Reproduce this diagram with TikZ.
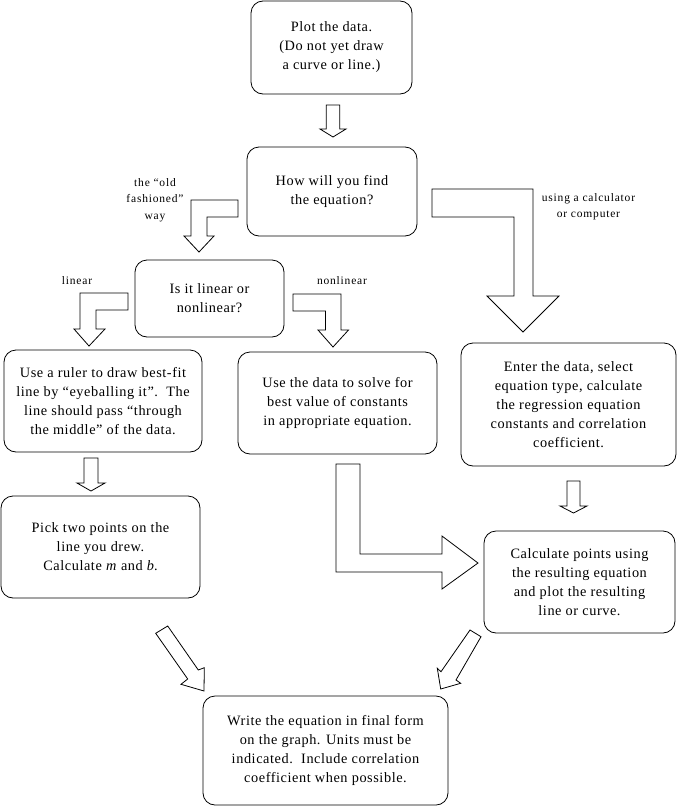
\documentclass[tikz,border=0pt]{standalone}
\usepackage{fontspec}
\setmainfont{Liberation Serif}
\newfontfamily\boxface[LetterSpace=4]{Liberation Serif}
\newfontfamily\tagface[LetterSpace=7]{Liberation Serif}
\usepackage{tikz}

\newcommand{\boxfont}{\boxface\fontsize{14.3}{19}\selectfont}
\newcommand{\tagfont}{\tagface\fontsize{11.5}{16.5}\selectfont}
% straight block arrow pointing down: x, top, neck, tip, half shaft, half head
\newcommand{\downblock}[6]{%
  \draw[blockarrow] (#1-#5,#2) -- (#1+#5,#2) -- (#1+#5,#3) -- (#1+#6,#3) -- (#1,#4)
    -- (#1-#6,#3) -- (#1-#5,#3) -- cycle;}

\begin{document}
\begin{tikzpicture}[x=1pt,y=-1pt,
  stepbox/.style={draw, line width=0.8pt, rounded corners=12pt, align=center, font=\boxfont, inner sep=0pt},
  tag/.style={align=center, font=\tagfont, inner sep=0pt},
  blockarrow/.style={draw, fill=white, line width=0.8pt, line join=miter}]
\useasboundingbox (0,0) rectangle (677,811);

% boxes
\node[stepbox, minimum width=161pt, minimum height=93pt] (plot) at (331.5,47.5)
  {Plot the data.\\ (Do not yet draw\\ a curve or line.)};
\node[stepbox, minimum width=170pt, minimum height=89pt] (find) at (332,191.5)
  {How will you find\\ the equation?};
\node[stepbox, minimum width=149pt, minimum height=77pt] (linq) at (209.5,298.5)
  {Is it linear or\\ nonlinear?};
\node[stepbox, minimum width=198pt, minimum height=102pt] (ruler) at (103,401)
  {Use a ruler to draw best-fit\\ line by “eyeballing it”.\ \ The\\ line should pass “through\\ the middle” of the data.};
\node[stepbox, minimum width=199pt, minimum height=102pt] (solve) at (337.5,403)
  {Use the data to solve for\\ best value of constants\\ in appropriate equation.};
\node[stepbox, minimum width=215pt, minimum height=123pt] (enter) at (568.5,404.5)
  {Enter the data, select\\ equation type, calculate\\ the regression equation\\ constants and correlation\\ coefficient.};
\node[stepbox, minimum width=199pt, minimum height=102pt] (pick) at (100.5,547)
  {Pick two points on the\\ line you drew.\\ Calculate \textit{m} and \textit{b}.};
\node[stepbox, minimum width=191pt, minimum height=102pt] (calc) at (579.5,582)
  {Calculate points using\\ the resulting equation\\ and plot the resulting\\ line or curve.};
\node[stepbox, minimum width=245pt, minimum height=109pt] (final) at (325.5,750.5)
  {Write the equation in final form\\ on the graph. Units must be\\ indicated.\ \ Include correlation\\ coefficient when possible.};

% labels
\node[tag] (oldway) at (155,200) {the “old\\ fashioned”\\ way};
\node[tag] (machine) at (588.5,206.5) {using a calculator\\ or computer};
\node[tag] (lin) at (77,281) {linear};
\node[tag] (nonlin) at (342,281) {nonlinear};

% straight arrows
\downblock{333}{105}{129}{137}{6.7}{13}
\downblock{91}{458}{483}{491}{7}{14}
\downblock{573.5}{481}{506}{513}{6.5}{13.5}

% bent arrows
\draw[blockarrow] (238,200) -- (191,200) -- (191,236) -- (184,236) -- (199,252)
  -- (214,236) -- (207,236) -- (207,217) -- (238,217) -- cycle;
\draw[blockarrow] (432,189) -- (533,189) -- (533,296) -- (559,296) -- (523,332)
  -- (487,296) -- (514,296) -- (514,217) -- (432,217) -- cycle;
\draw[blockarrow] (128,293) -- (80,293) -- (80,329) -- (74,329) -- (89,346)
  -- (105,329) -- (96,329) -- (96,310) -- (128,310) -- cycle;
\draw[blockarrow] (293,294) -- (341,294) -- (341,330) -- (348.5,330) -- (333,347)
  -- (318,330) -- (325.5,330) -- (325.5,311) -- (293,311) -- cycle;
\draw[blockarrow] (336,464) -- (360,464) -- (360,554) -- (442,554) -- (442,536)
  -- (478,563) -- (442,589) -- (442,572) -- (336,572) -- cycle;

% slanted arrows
\draw[blockarrow] (155.7,633.3) -- (167.7,626) -- (198.3,670) -- (204.3,667.7)
  -- (204,691) -- (181,684.3) -- (187.7,679) -- cycle;
\draw[blockarrow] (470,630) -- (481,636.7) -- (456,680) -- (460.7,683.3)
  -- (440.7,689) -- (437.3,668.3) -- (441,671.7) -- cycle;

\end{tikzpicture}
\end{document}
